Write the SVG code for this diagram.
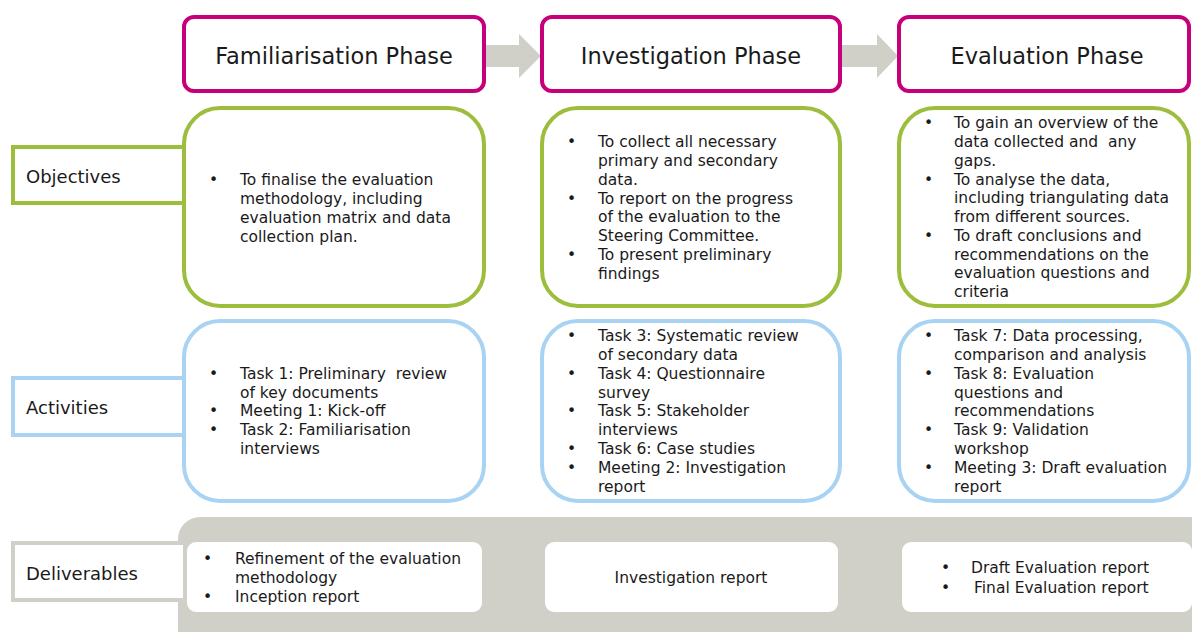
<svg xmlns="http://www.w3.org/2000/svg" width="1192" height="632" viewBox="0 0 1192 632">
<style>
text{font-family:"DejaVu Sans","Verdana",sans-serif;fill:#1a1a1a}
.ph{fill:#fff;stroke:#C5007A;stroke-width:4}
.ob{fill:#fff;stroke:#9DBE3D;stroke-width:4}
.ac{fill:#fff;stroke:#A9D3F2;stroke-width:4}
.lab{font-size:18px}
.ttl{font-size:22.5px;text-anchor:middle}
.b{font-size:15.5px;white-space:pre}
.arr{fill:#D0D0C8}
</style>
<rect width="1192" height="632" fill="#fff"/>

<g id="connectors">
<polygon class="arr" points="485,45 519,45 519,34 541,56 519,78 519,67 485,67"/>
<polygon class="arr" points="842,45 877,45 877,34 898,56 877,78 877,67 842,67"/>
</g>

<g id="phase-familiarisation">
<rect class="ph" x="184" y="17" width="300" height="74" rx="10"/>
<text class="ttl" x="334" y="64">Familiarisation Phase</text>
</g>
<g id="phase-investigation">
<rect class="ph" x="542" y="17" width="298" height="74" rx="10"/>
<text class="ttl" x="691" y="64">Investigation Phase</text>
</g>
<g id="phase-evaluation">
<rect class="ph" x="899" y="17" width="290" height="74" rx="10"/>
<text class="ttl" x="1047" y="64">Evaluation Phase</text>
</g>

<g id="label-objectives">
<rect x="13" y="147" width="172" height="56" fill="#fff" stroke="#9DBE3D" stroke-width="4"/>
<text class="lab" x="26" y="183">Objectives</text>
</g>
<g id="obj-familiarisation">
<rect class="ob" x="184" y="108" width="300" height="198" rx="36"/>
<text class="b"><tspan x="209" y="185">•</tspan><tspan x="240" y="185">To finalise the evaluation</tspan><tspan x="240" y="204">methodology, including</tspan><tspan x="240" y="223">evaluation matrix and data</tspan><tspan x="240" y="242">collection plan.</tspan></text>
</g>
<g id="obj-investigation">
<rect class="ob" x="542" y="108" width="298" height="198" rx="36"/>
<text class="b"><tspan x="567" y="147">•</tspan><tspan x="598" y="147">To collect all necessary</tspan><tspan x="598" y="166">primary and secondary</tspan><tspan x="598" y="185">data.</tspan><tspan x="567" y="204">•</tspan><tspan x="598" y="204">To report on the progress</tspan><tspan x="598" y="222">of the evaluation to the</tspan><tspan x="598" y="241">Steering Committee.</tspan><tspan x="567" y="260">•</tspan><tspan x="598" y="260">To present preliminary</tspan><tspan x="598" y="279">findings</tspan></text>
</g>
<g id="obj-evaluation">
<rect class="ob" x="899" y="108" width="290" height="198" rx="36"/>
<text class="b"><tspan x="924" y="128">•</tspan><tspan x="954" y="128">To gain an overview of the</tspan><tspan x="954" y="147">data collected and  any</tspan><tspan x="954" y="166">gaps.</tspan><tspan x="924" y="185">•</tspan><tspan x="954" y="185">To analyse the data,</tspan><tspan x="954" y="203">including triangulating data</tspan><tspan x="954" y="222">from different sources.</tspan><tspan x="924" y="241">•</tspan><tspan x="954" y="241">To draft conclusions and</tspan><tspan x="954" y="260">recommendations on the</tspan><tspan x="954" y="278">evaluation questions and</tspan><tspan x="954" y="297">criteria</tspan></text>
</g>

<g id="label-activities">
<rect x="13" y="378" width="172" height="57" fill="#fff" stroke="#A9D3F2" stroke-width="4"/>
<text class="lab" x="26" y="414">Activities</text>
</g>
<g id="act-familiarisation">
<rect class="ac" x="184" y="321" width="300" height="180" rx="36"/>
<text class="b"><tspan x="209" y="379">•</tspan><tspan x="240" y="379">Task 1: Preliminary  review</tspan><tspan x="240" y="398">of key documents</tspan><tspan x="209" y="416">•</tspan><tspan x="240" y="416">Meeting 1: Kick-off</tspan><tspan x="209" y="435">•</tspan><tspan x="240" y="435">Task 2: Familiarisation</tspan><tspan x="240" y="454">interviews</tspan></text>
</g>
<g id="act-investigation">
<rect class="ac" x="542" y="321" width="298" height="180" rx="36"/>
<text class="b"><tspan x="567" y="341">•</tspan><tspan x="598" y="341">Task 3: Systematic review</tspan><tspan x="598" y="360">of secondary data</tspan><tspan x="567" y="379">•</tspan><tspan x="598" y="379">Task 4: Questionnaire</tspan><tspan x="598" y="398">survey</tspan><tspan x="567" y="416">•</tspan><tspan x="598" y="416">Task 5: Stakeholder</tspan><tspan x="598" y="435">interviews</tspan><tspan x="567" y="454">•</tspan><tspan x="598" y="454">Task 6: Case studies</tspan><tspan x="567" y="473">•</tspan><tspan x="598" y="473">Meeting 2: Investigation</tspan><tspan x="598" y="492">report</tspan></text>
</g>
<g id="act-evaluation">
<rect class="ac" x="899" y="321" width="290" height="180" rx="36"/>
<text class="b"><tspan x="924" y="341">•</tspan><tspan x="954" y="341">Task 7: Data processing,</tspan><tspan x="954" y="360">comparison and analysis</tspan><tspan x="924" y="379">•</tspan><tspan x="954" y="379">Task 8: Evaluation</tspan><tspan x="954" y="398">questions and</tspan><tspan x="954" y="416">recommendations</tspan><tspan x="924" y="435">•</tspan><tspan x="954" y="435">Task 9: Validation</tspan><tspan x="954" y="454">workshop</tspan><tspan x="924" y="473">•</tspan><tspan x="954" y="473">Meeting 3: Draft evaluation</tspan><tspan x="954" y="492">report</tspan></text>
</g>

<g id="deliverables-panel">
<rect x="178" y="517" width="1040" height="140" rx="22" fill="#D0D0C8"/>
</g>
<g id="label-deliverables">
<rect x="13" y="543" width="172" height="57" fill="#fff" stroke="#D0D0C8" stroke-width="4"/>
<text class="lab" x="26" y="580">Deliverables</text>
</g>
<g id="del-familiarisation">
<rect x="187" y="542" width="295" height="70" rx="9" fill="#fff"/>
<text class="b"><tspan x="203" y="564">•</tspan><tspan x="235" y="564">Refinement of the evaluation</tspan><tspan x="235" y="583">methodology</tspan><tspan x="203" y="602">•</tspan><tspan x="235" y="602">Inception report</tspan></text>
</g>
<g id="del-investigation">
<rect x="545" y="542" width="293" height="70" rx="9" fill="#fff"/>
<text class="b" x="691" y="583" text-anchor="middle">Investigation report</text>
</g>
<g id="del-evaluation">
<rect x="902" y="542" width="290" height="70" rx="9" fill="#fff"/>
<text class="b"><tspan x="941" y="573">•</tspan><tspan x="971" y="573">Draft Evaluation report</tspan><tspan x="941" y="593">•</tspan><tspan x="974" y="593">Final Evaluation report</tspan></text>
</g>
</svg>
